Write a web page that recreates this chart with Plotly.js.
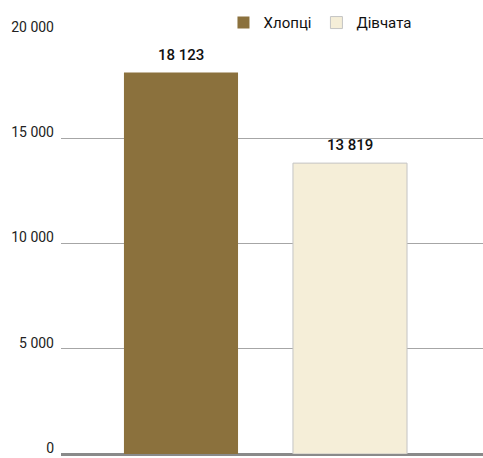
<!DOCTYPE html>
<html><head><meta charset="utf-8">
<script src="https://cdn.plot.ly/plotly-3.0.1.min.js"></script>
<style>body{margin:0;background:#fff}#c{width:483px;height:458px}</style>
</head><body><div id="c"></div>
<script>
const seriesNames = ["Хлопці", "Дівчата"];
const values = [18123, 13819];
const valueLabels = ["18 123", "13 819"];
const positions = [0, 1];
const colors = ["#8B713D", "#F5EED8"];
const yTicks = [0, 5000, 10000, 15000, 20000];
const yTickLabels = ["0", "5 000", "10 000", "15 000", "20 000"];

const font = "Roboto, 'DejaVu Sans Condensed', sans-serif";
const traces = seriesNames.map((n, i) => ({
  type: "bar", name: n, x: [positions[i]], y: [values[i]],
  width: 0.675,
  marker: {color: colors[i], line: {color: i === 1 ? "#c4c4c4" : colors[i], width: i === 1 ? 1 : 0}},
  hoverinfo: "none"
}));

const annotations = values.map((v, i) => ({
  x: positions[i], y: v, xref: "x", yref: "y", text: valueLabels[i],
  showarrow: false, yanchor: "bottom", yshift: 7,
  font: {family: font, size: 15, weight: 500, color: "#111"}
}));

Plotly.newPlot("c", traces, {
  width: 483, height: 458,
  margin: {l: 61, r: 0, t: 33, b: 4},
  paper_bgcolor: "#fff", plot_bgcolor: "#fff",
  font: {family: font, size: 13, color: "#222"},
  showlegend: true,
  legend: {orientation: "h", x: 0.385, xanchor: "left", y: 0.985, yanchor: "bottom",
    font: {family: font, size: 15, color: "#111"}, itemwidth: 30, traceorder: "normal"},
  annotations: annotations,
  xaxis: {range: [-0.71, 1.787], showticklabels: false, showgrid: false, zeroline: false, fixedrange: true},
  yaxis: {range: [0, 20000], tickvals: yTicks, ticktext: yTickLabels, showgrid: true, gridcolor: "#a6a6a6", gridwidth: 1,
    zeroline: true, zerolinecolor: "#8a8a8a", zerolinewidth: 3, ticks: "", ticklabelstandoff: 6, ticklabelshift: -6,
    tickfont: {family: font, size: 14, color: "#222"}}
}, {staticPlot: true});
</script></body></html>
